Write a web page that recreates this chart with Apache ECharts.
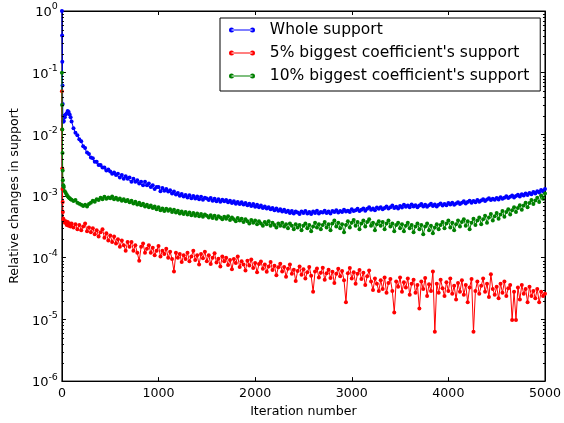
<!DOCTYPE html>
<html><head><meta charset="utf-8">
<script src="https://cdn.jsdelivr.net/npm/echarts@6/dist/echarts.min.js"></script>
<style>html,body{margin:0;padding:0;background:#fff}#c{width:564px;height:423px}</style>
</head><body><div id="c"></div>
<script>
const iterations = [
  0,2,4,6,8,10,15,20,30,40,50,60,70,80,90,
  100,120,140,160,180,200,220,240,260,280,
  300,320,340,360,380,400,420,440,460,480,
  500,520,540,560,580,600,620,640,660,680,
  700,720,740,760,780,800,820,840,860,880,
  900,920,940,960,980,1000,1020,1040,1060,1080,
  1100,1120,1140,1160,1180,1200,1220,1240,1260,1280,
  1300,1320,1340,1360,1380,1400,1420,1440,1460,1480,
  1500,1520,1540,1560,1580,1600,1620,1640,1660,1680,
  1700,1720,1740,1760,1780,1800,1820,1840,1860,1880,
  1900,1920,1940,1960,1980,2000,2020,2040,2060,2080,
  2100,2120,2140,2160,2180,2200,2220,2240,2260,2280,
  2300,2320,2340,2360,2380,2400,2420,2440,2460,2480,
  2500,2520,2540,2560,2580,2600,2620,2640,2660,2680,
  2700,2720,2740,2760,2780,2800,2820,2840,2860,2880,
  2900,2920,2940,2960,2980,3000,3020,3040,3060,3080,
  3100,3120,3140,3160,3180,3200,3220,3240,3260,3280,
  3300,3320,3340,3360,3380,3400,3420,3440,3460,3480,
  3500,3520,3540,3560,3580,3600,3620,3640,3660,3680,
  3700,3720,3740,3760,3780,3800,3820,3840,3860,3880,
  3900,3920,3940,3960,3980,4000,4020,4040,4060,4080,
  4100,4120,4140,4160,4180,4200,4220,4240,4260,4280,
  4300,4320,4340,4360,4380,4400,4420,4440,4460,4480,
  4500,4520,4540,4560,4580,4600,4620,4640,4660,4680,
  4700,4720,4740,4760,4780,4800,4820,4840,4860,4880,
  4900,4920,4940,4960,4980,5000
];
const wholeSupport = [
  1.0,0.4,0.15,0.062,0.031,0.02,0.016,0.0165,0.019,0.021,0.022,0.024,0.023,0.021,0.019,
  0.0162,0.0126,0.0106,0.0097,0.0083,0.0077,0.0064,0.0060,0.0051,0.0048,
  0.0042,0.0041,0.0036,0.0036,0.0032,0.0032,0.0029,0.0029,0.0026,0.0027,
  0.0025,0.0023,0.0024,0.0022,0.0023,0.0020,0.0022,0.0019,0.0021,0.0019,
  0.0020,0.0017,0.0019,0.0017,0.0018,0.0016,0.0017,0.0015,0.0017,0.0015,
  0.0016,0.0014,0.0015,0.0013,0.0014,0.0014,0.0012,0.00135,0.00122,0.0013,
  0.00118,0.00124,0.0011,0.00118,0.00106,0.00112,0.00101,0.00108,0.00098,0.00104,
  0.00095,0.00103,0.00092,0.001,0.00091,0.00098,0.00089,0.00097,0.00087,0.00094,
  0.00091,0.00086,0.00093,0.00084,0.0009,0.00082,0.00089,0.00081,0.00087,0.00082,
  0.00086,0.00079,0.00084,0.00077,0.00082,0.00075,0.0008,0.00074,0.00079,0.00073,
  0.00077,0.00071,0.00075,0.00069,0.00074,0.00067,0.00072,0.00066,0.0007,0.00064,
  0.00068,0.00063,0.00066,0.00061,0.00064,0.00059,0.00063,0.00058,0.00061,0.00056,
  0.0006,0.00055,0.00058,0.00053,0.00057,0.00052,0.00056,0.00054,0.00051,0.00056,
  0.00053,0.00057,0.00052,0.00055,0.00051,0.00056,0.00053,0.00058,0.00052,0.00055,
  0.00054,0.00058,0.00053,0.00056,0.00052,0.00057,0.00055,0.00059,0.00054,0.00057,
  0.00055,0.0006,0.00056,0.00058,0.00055,0.00061,0.00057,0.00059,0.00062,0.00057,
  0.0006,0.00063,0.00058,0.00062,0.00066,0.0006,0.00063,0.00059,0.00065,0.00062,
  0.00066,0.00061,0.00064,0.00068,0.00063,0.00066,0.0007,0.00064,0.00067,0.00063,
  0.00069,0.00065,0.00072,0.00067,0.0007,0.00066,0.00073,0.00068,0.00071,0.00066,
  0.0007,0.00074,0.00068,0.00072,0.00067,0.00071,0.00075,0.00069,0.00073,0.00068,
  0.00072,0.00076,0.0007,0.00074,0.00071,0.00077,0.00073,0.00078,0.00072,0.00076,
  0.00079,0.00074,0.00078,0.00082,0.00076,0.0008,0.00084,0.00078,0.00083,0.00079,
  0.00086,0.00081,0.00085,0.00089,0.00083,0.00088,0.00092,0.00086,0.0009,0.00087,
  0.00093,0.00088,0.00096,0.0009,0.00094,0.00099,0.00093,0.00097,0.00102,0.00095,
  0.001,0.00105,0.00098,0.00107,0.00102,0.0011,0.00104,0.00112,0.00107,0.00116,
  0.0011,0.0012,0.00114,0.00125,0.00118,0.0013
];
const top5Support = [
  0.05,0.012,0.0028,0.0013,0.0008,0.00055,0.00043,0.0004,0.00037,0.00039,0.00034,0.00038,0.00033,0.00036,0.00032,
  0.00036,0.00031,0.00035,0.00029,0.00034,0.00028,0.00032,0.00036,0.00027,0.00031,
  0.00026,0.0003,0.00024,0.00028,0.00022,0.00026,0.00029,0.00021,0.00025,0.00019,
  0.00023,0.00018,0.00022,0.00017,0.0002,0.00015,0.00019,0.00016,0.00013,0.00018,
  0.00015,0.00018,0.00013,0.00016,0.00012,0.000089,0.00015,0.00017,0.00012,0.00014,
  0.00016,0.00012,0.000145,0.00011,0.00013,0.000155,0.000105,0.00013,0.000115,0.00014,
  0.0001,0.000125,0.000095,0.00006,0.00012,0.0001,0.000115,0.000085,0.00011,0.000095,
  0.00012,0.000088,0.000105,0.00013,0.000092,0.00011,0.000078,0.000115,0.000098,0.000125,
  0.000088,0.00011,0.000079,0.0001,0.000118,0.000084,0.000096,0.000072,0.000105,0.000088,
  0.0001,0.000076,0.000092,0.000065,0.000095,0.000082,0.000105,0.000071,0.000088,0.000078,
  0.000062,0.000089,0.000075,0.000094,0.000068,0.000082,0.000058,0.000079,0.000087,0.000066,
  0.000078,0.000059,0.000072,0.000085,0.000063,0.000074,0.000052,0.00007,0.00008,0.00006,
  0.000071,0.000049,0.000066,0.000078,0.000055,0.000064,0.000042,0.000061,0.000072,0.000053,
  0.000065,0.000046,0.000058,0.000071,0.000051,0.000028,0.00006,0.000067,0.000048,0.000057,
  0.000069,0.000044,0.000056,0.000064,0.000047,0.000059,0.000039,0.000055,0.000066,0.00005,
  0.000061,0.000043,0.000019,0.000056,0.000068,0.000046,0.000058,0.000038,0.000055,0.000063,
  0.000045,0.000057,0.000036,0.00005,0.000062,0.000041,0.00003,0.000046,0.000038,0.000029,
  0.000043,0.000031,0.000048,0.000027,0.000039,0.000045,0.000029,0.000013,0.000041,0.000034,
  0.000048,0.000028,0.00004,0.000033,0.000046,0.000025,0.000038,0.000044,0.000027,0.000036,
  0.000015,0.000041,0.000031,0.000047,0.000024,0.000037,0.000029,0.00006,0.0000063,0.000038,
  0.000027,0.000044,0.000032,0.000024,0.00004,0.000029,0.000046,0.000026,0.000035,0.000021,
  0.000039,0.000028,0.000043,0.000025,0.000036,0.000019,0.000033,0.000045,0.0000063,0.000029,
  0.000041,0.000026,0.000035,0.000046,0.000028,0.000038,0.000023,0.000054,0.000031,0.000025,
  0.000034,0.000022,0.000038,0.000027,0.000041,0.000024,0.000032,0.000036,0.0000098,0.000028,
  0.0000098,0.000033,0.000021,0.000036,0.000026,0.000031,0.000019,0.000034,0.000024,0.000029,
  0.000022,0.000031,0.000019,0.000028,0.000024,0.000026
];
const top10Support = [
  0.1,0.03,0.012,0.005,0.0026,0.0018,0.0015,0.0014,0.0012,0.00112,0.00105,0.00099,0.00095,0.00092,0.00089,
  0.00087,0.00083,0.00086,0.00078,0.00075,0.00072,0.00069,0.00072,0.00068,0.00074,
  0.00078,0.00084,0.00081,0.00089,0.00086,0.00094,0.00089,0.00097,0.0009,0.00095,
  0.00092,0.00098,0.00089,0.00094,0.00087,0.00091,0.00084,0.00089,0.00082,0.00086,
  0.00079,0.00084,0.00076,0.00081,0.00073,0.00078,0.00071,0.00075,0.00068,0.00072,
  0.00066,0.0007,0.00064,0.00068,0.00061,0.00066,0.00059,0.00063,0.00057,0.00062,
  0.00058,0.00061,0.00055,0.0006,0.00054,0.00058,0.00052,0.00056,0.00051,0.00055,
  0.0005,0.00054,0.00049,0.00053,0.00048,0.00052,0.00047,0.00051,0.00046,0.0005,
  0.00048,0.00045,0.00049,0.00044,0.00048,0.00043,0.00047,0.00045,0.00042,0.00046,
  0.00043,0.00047,0.00041,0.00045,0.00042,0.00039,0.00044,0.0004,0.00043,0.00038,
  0.00042,0.00039,0.00036,0.00041,0.00037,0.0004,0.00035,0.00039,0.00036,0.00033,
  0.00038,0.00035,0.00039,0.00033,0.00037,0.00034,0.00031,0.00036,0.00033,0.00037,
  0.00032,0.00035,0.0003,0.00036,0.00033,0.00029,0.00035,0.00031,0.00034,0.00028,
  0.00033,0.00036,0.0003,0.00034,0.00027,0.00032,0.00037,0.00031,0.00035,0.00029,
  0.00034,0.00038,0.00031,0.00035,0.00028,0.00036,0.0004,0.00032,0.00037,0.0003,
  0.00035,0.00026,0.00034,0.00039,0.00031,0.00037,0.00041,0.00033,0.00038,0.00029,
  0.00036,0.0004,0.00032,0.00038,0.00042,0.00033,0.00037,0.00028,0.00035,0.00039,
  0.00033,0.00038,0.00029,0.00036,0.0004,0.00032,0.00036,0.00027,0.00034,0.00037,
  0.0003,0.00035,0.00027,0.00033,0.00037,0.0003,0.00034,0.00026,0.00032,0.00036,
  0.00029,0.00034,0.00024,0.00032,0.00036,0.00028,0.00033,0.00025,0.00031,0.00035,
  0.00029,0.00034,0.00038,0.0003,0.00036,0.0004,0.00031,0.00037,0.00028,0.00035,
  0.0004,0.00032,0.00038,0.00042,0.00033,0.00039,0.00029,0.00037,0.00043,0.00034,
  0.0004,0.00045,0.00035,0.00042,0.00048,0.00037,0.00045,0.00051,0.0004,0.00047,
  0.00053,0.00043,0.0005,0.00057,0.00046,0.00055,0.00061,0.0005,0.00059,0.00066,
  0.00055,0.00064,0.00071,0.0006,0.0007,0.00078,0.00066,0.00077,0.00086,0.00074,
  0.00085,0.00094,0.0008,0.00102,0.0009,0.0011
];
const seriesNames = ['Whole support', "5% biggest coefficient's support", "10% biggest coefficient's support"];
const seriesColors = ['#0000ff', '#ff0000', '#008000'];
const xTickValues = [0, 1000, 2000, 3000, 4000, 5000];
const minorTickValues = [
  2e-6,3e-6,4e-6,5e-6,6e-6,7e-6,8e-6,9e-6,
  2e-5,3e-5,4e-5,5e-5,6e-5,7e-5,8e-5,9e-5,
  2e-4,3e-4,4e-4,5e-4,6e-4,7e-4,8e-4,9e-4,
  2e-3,3e-3,4e-3,5e-3,6e-3,7e-3,8e-3,9e-3,
  2e-2,3e-2,4e-2,5e-2,6e-2,7e-2,8e-2,9e-2,
  0.2,0.3,0.4,0.5,0.6,0.7,0.8,0.9
];

const FONT = 'DejaVu Sans';
const xMin = xTickValues[0], xMax = xTickValues[xTickValues.length - 1];
function pairs(ys) { return iterations.map((x, i) => [x, ys[i]]); }

const legendIcon = 'path://M0,2.5a2.5,2.5 0 1,0 5,0a2.5,2.5 0 1,0 -5,0Z M21,2.5a2.5,2.5 0 1,0 5,0a2.5,2.5 0 1,0 -5,0Z M2.5,2 L23.5,2 L23.5,3 L2.5,3Z';

function lineSeries(idx, ys) {
  const c = seriesColors[idx];
  return {
    name: seriesNames[idx], type: 'line', data: pairs(ys),
    symbol: 'circle', symbolSize: 4, showSymbol: true, showAllSymbol: true,
    lineStyle: { color: c, width: 1 }, itemStyle: { color: c },
    emphasis: { disabled: true }, z: 2 + idx, animation: false
  };
}

const axisCommon = {
  axisLine: { show: true, onZero: false, lineStyle: { color: '#000', width: 1 } },
  axisTick: { show: true, inside: true, length: 4, lineStyle: { color: '#000', width: 1 } },
  splitLine: { show: false }
};

const chart = echarts.init(document.getElementById('c'));
chart.setOption({
  animation: false,
  backgroundColor: '#fff',
  grid: { left: 61, right: 17, top: 11, bottom: 36, show: true, borderColor: '#000', borderWidth: 1, backgroundColor: 'transparent' },
  xAxis: [
    Object.assign({
      type: 'value', min: xMin, max: xMax, interval: 1000, position: 'bottom',
      axisLabel: { color: '#000', fontFamily: FONT, fontSize: 12.6, margin: 6, formatter: v => String(v) },
      name: 'Iteration number', nameLocation: 'middle', nameGap: 20,
      nameTextStyle: { color: '#000', fontFamily: FONT, fontSize: 12.6 }
    }, axisCommon),
    Object.assign({
      type: 'value', min: xMin, max: xMax, interval: 1000, position: 'top',
      axisLabel: { show: false }
    }, axisCommon)
  ],
  yAxis: [
    Object.assign({
      type: 'log', logBase: 10, min: 1e-6, max: 1, position: 'left',
      axisLabel: {
        margin: 4, color: '#000',
        formatter: v => '{b|10}{s|' + Math.round(Math.log10(v)) + '}',
        rich: {
          b: { fontFamily: FONT, fontSize: 13, color: '#000', lineHeight: 18, padding: [4, 0, 0, 0] },
          s: { fontFamily: FONT, fontSize: 9.5, color: '#000', lineHeight: 10, verticalAlign: 'top' }
        }
      },
      name: 'Relative changes in support', nameLocation: 'middle', nameGap: 38, nameRotate: 90,
      nameTextStyle: { color: '#000', fontFamily: FONT, fontSize: 12.6 }
    }, axisCommon),
    Object.assign({
      type: 'log', logBase: 10, min: 1e-6, max: 1, position: 'right',
      axisLabel: { show: false }
    }, axisCommon)
  ],
  legend: {
    data: seriesNames, orient: 'vertical', left: 220, top: 18,
    padding: [3, 11, 6, 9], itemGap: 5, itemWidth: 26, itemHeight: 5,
    icon: legendIcon,
    borderColor: '#000', borderWidth: 1, borderRadius: 0, backgroundColor: '#fff',
    formatter: n => '  ' + n,
    textStyle: { color: '#000', fontFamily: FONT, fontSize: 15.5, lineHeight: 18 },
    selectedMode: false
  },
  series: [
    lineSeries(0, wholeSupport),
    lineSeries(1, top5Support),
    lineSeries(2, top10Support),
    {
      type: 'custom', silent: true, clip: false, z: 10,
      data: minorTickValues.map(v => [xMin, v]),
      renderItem: (params, api) => {
        const v = api.value(1);
        const l = api.coord([xMin, v]);
        const r = api.coord([xMax, v]);
        const y = Math.round(l[1]) + 0.5;
        return {
          type: 'group', children: [
            { type: 'line', shape: { x1: l[0], y1: y, x2: l[0] + 2, y2: y }, style: { stroke: '#000', lineWidth: 1 } },
            { type: 'line', shape: { x1: r[0] - 2, y1: y, x2: r[0], y2: y }, style: { stroke: '#000', lineWidth: 1 } }
          ]
        };
      }
    }
  ]
});
</script>
</body></html>
